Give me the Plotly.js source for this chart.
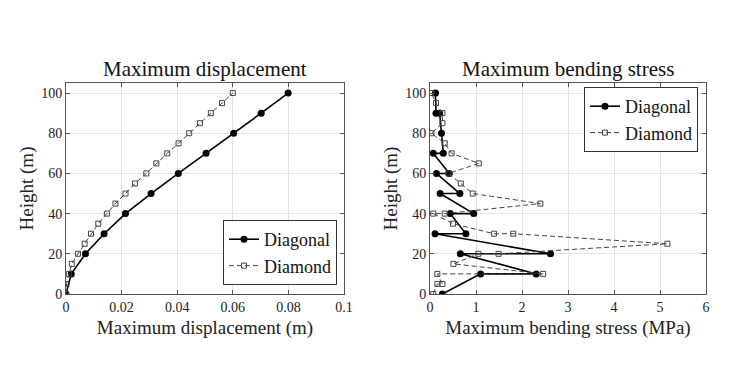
<!DOCTYPE html>
<html>
<head>
<meta charset="utf-8">
<script src="https://cdn.plot.ly/plotly-3.0.1.min.js"></script>
<style>html,body{margin:0;padding:0;background:#fff;}#chart{width:730px;height:367px;}</style>
</head>
<body>
<div id="chart"></div>
<script>
// ---- Data ----
const seriesNames = ["Diagonal", "Diamond"];

// Maximum displacement (m) vs height (m)
const dispDiagHeight = [0, 10, 20, 30, 40, 50, 60, 70, 80, 90, 100];
const dispDiagValue  = [0, 0.0019, 0.0070, 0.0137, 0.0214, 0.0306, 0.0404, 0.0504, 0.0603, 0.0702, 0.0799];

const dispDiamHeight = [0, 5, 10, 15, 20, 25, 30, 35, 40, 45, 50, 55, 60, 65, 70, 75, 80, 85, 90, 95, 100];
const dispDiamValue  = [0, 0.0002, 0.0010, 0.0021, 0.0043, 0.0067, 0.0090, 0.0116, 0.0147, 0.0178, 0.0214,
                        0.0248, 0.0289, 0.0325, 0.0364, 0.0405, 0.0443, 0.0482, 0.0521, 0.0561, 0.0600];

// Maximum bending stress (MPa) vs height (m), in drawing order
const stressDiagHeight = [0, 10, 10, 20, 20, 30, 30, 40, 40, 50, 50, 60, 60, 70, 70, 80, 90, 90, 100];
const stressDiagValue  = [0.27, 1.10, 2.31, 0.66, 2.62, 0.11, 0.78, 0.44, 0.95, 0.22, 0.65, 0.14, 0.42, 0.07, 0.29, 0.25, 0.21, 0.13, 0.12];

const stressDiamHeight = [0, 5, 5, 10, 10, 15, 20, 20, 25, 30, 30, 35, 40, 40, 45, 50, 55, 60, 65, 70, 75, 80, 85, 90, 95, 100];
const stressDiamValue  = [0.07, 0.16, 0.27, 0.16, 2.46, 0.51, 1.05, 1.49, 5.16, 1.81, 1.39, 0.50, 0.07, 0.32, 2.40,
                          0.93, 0.67, 0.40, 1.06, 0.47, 0.32, 0.03, 0.27, 0.27, 0.13, 0.03];

const titles = ["Maximum displacement", "Maximum bending stress"];
const xTitles = ["Maximum displacement (m)", "Maximum bending stress (MPa)"];
const yTitle = "Height (m)";

// ---- Styles ----
const FONT = "Liberation Serif";
const diagStyle = {
  mode: "lines+markers",
  line: {color: "#000", width: 1.6},
  marker: {symbol: "circle", size: 7, color: "#000"}
};
const diamStyle = {
  mode: "lines+markers",
  line: {color: "#444", width: 1, dash: "5px,3px"},
  marker: {symbol: "square-open", size: 5, color: "#444", line: {width: 1, color: "#444"}}
};

const traces = [
  Object.assign({x: dispDiagValue, y: dispDiagHeight, name: seriesNames[0], xaxis: "x", yaxis: "y", legend: "legend"}, diagStyle),
  Object.assign({x: dispDiamValue, y: dispDiamHeight, name: seriesNames[1], xaxis: "x", yaxis: "y", legend: "legend"}, diamStyle),
  Object.assign({x: stressDiagValue, y: stressDiagHeight, name: seriesNames[0], xaxis: "x2", yaxis: "y2", legend: "legend2"}, diagStyle),
  Object.assign({x: stressDiamValue, y: stressDiamHeight, name: seriesNames[1], xaxis: "x2", yaxis: "y2", legend: "legend2"}, diamStyle)
];

function axisBase() {
  return {
    showline: true, linecolor: "#555", linewidth: 1, mirror: "ticks",
    ticks: "inside", ticklen: 4, tickcolor: "#555", tickwidth: 1,
    showgrid: true, gridcolor: "#e3e3e3", gridwidth: 1,
    zeroline: false,
    tickfont: {family: FONT, size: 14, color: "#222"},
    title: {font: {family: FONT, size: 19, color: "#222"}}
  };
}

const yDom = [1 - 294/367, 1 - 83/367];

const xaxis = Object.assign(axisBase(), {domain: [66/730, 344/730], range: [0, 0.1], dtick: 0.02, anchor: "y"});
xaxis.title.text = xTitles[0]; xaxis.title.standoff = 6;
const yaxis = Object.assign(axisBase(), {domain: yDom, range: [0, 105], tickvals: [0, 20, 40, 60, 80, 100], anchor: "x"});
yaxis.title.text = yTitle; yaxis.title.standoff = 2;
const xaxis2 = Object.assign(axisBase(), {domain: [430/730, 706/730], range: [0, 6], dtick: 1, anchor: "y2"});
xaxis2.title.text = xTitles[1]; xaxis2.title.standoff = 6;
const yaxis2 = Object.assign(axisBase(), {domain: yDom, range: [0, 105], tickvals: [0, 20, 40, 60, 80, 100], anchor: "x2"});
yaxis2.title.text = yTitle; yaxis2.title.standoff = 2;

const legendBase = {
  font: {family: FONT, size: 18, color: "#111"},
  bgcolor: "#fff", bordercolor: "#333", borderwidth: 1,
  itemwidth: 30, tracegroupgap: 0
};

const layout = {
  width: 730, height: 367,
  margin: {l: 0, r: 0, t: 0, b: 0},
  paper_bgcolor: "#fff", plot_bgcolor: "#fff",
  font: {family: FONT, color: "#222"},
  xaxis: xaxis, yaxis: yaxis, xaxis2: xaxis2, yaxis2: yaxis2,
  legend: Object.assign({x: 337/730, xanchor: "right", y: 1 - 285/367, yanchor: "bottom"}, legendBase),
  legend2: Object.assign({x: 698/730, xanchor: "right", y: 1 - 87/367, yanchor: "top"}, legendBase),
  annotations: [
    {text: titles[0], xref: "x domain", yref: "paper", x: 0.5, y: 1 - 69/367, xanchor: "center", yanchor: "middle",
     showarrow: false, font: {family: FONT, size: 21, color: "#111"}},
    {text: titles[1], xref: "x2 domain", yref: "paper", x: 0.5, y: 1 - 69/367, xanchor: "center", yanchor: "middle",
     showarrow: false, font: {family: FONT, size: 21, color: "#111"}}
  ]
};

Plotly.newPlot("chart", traces, layout, {displayModeBar: false, staticPlot: true});
</script>
</body>
</html>
